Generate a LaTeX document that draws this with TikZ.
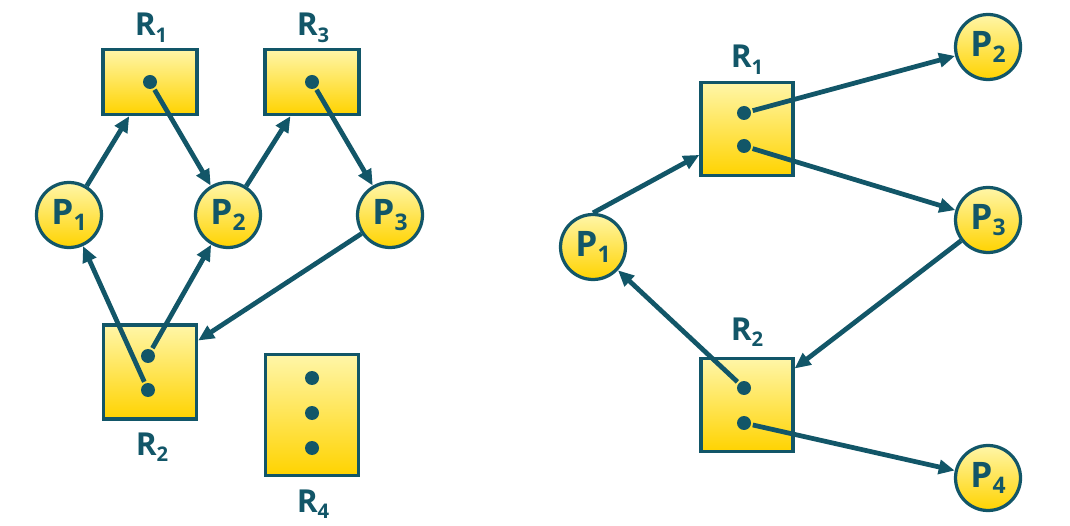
\documentclass[tikz,border=0pt]{standalone}
\usepackage{fontspec}
\setmainfont{Open Sans}
\usetikzlibrary{arrows.meta,positioning}
\definecolor{rag}{RGB}{18,86,104}
\definecolor{ragtop}{RGB}{255,246,168}
\definecolor{ragbot}{RGB}{255,211,0}
\newcommand{\psub}[1]{\raisebox{-3.8pt}{\fontsize{13}{13}\selectfont #1}}
\newcommand{\rsub}[1]{\raisebox{-3.8pt}{\fontsize{11.5}{11.5}\selectfont #1}}

\begin{document}
\begin{tikzpicture}[x=0.02cm,y=-0.02cm,
  >={Triangle[length=0.32cm,width=0.28cm]},
  res/.style={draw=rag,line width=0.065cm,top color=ragtop,bottom color=ragbot,inner sep=0},
  proc/.style={circle,draw=rag,line width=0.065cm,top color=ragtop,bottom color=ragbot,
    minimum size=1.3cm,inner sep=0,text=rag,font=\fontsize{20}{20}\selectfont\bfseries},
  inst/.style={circle,fill=rag,minimum size=0.28cm,inner sep=0,outer sep=0.04cm},
  rlab/.style={anchor=base,text=rag,font=\fontsize{18}{18}\selectfont\bfseries},
  link/.style={->,draw=rag,line width=0.095cm}]
  \useasboundingbox (0,0) rectangle (1070,526);

  % left graph
  \node[res,minimum width=1.88cm,minimum height=1.30cm] (lR1) at (150,82) {};
  \node[res,minimum width=1.88cm,minimum height=1.30cm] (lR3) at (312,82) {};
  \node[res,minimum width=1.86cm,minimum height=1.88cm] (lR2) at (150,372) {};
  \node[res,minimum width=1.86cm,minimum height=2.42cm] (lR4) at (312,415) {};
  \node[proc] (lP1) at (69,215) {P\psub{1}};
  \node[proc] (lP2) at (228,215) {P\psub{2}};
  \node[proc] (lP3) at (390,215) {P\psub{3}};

  \node[inst] (lR1a) at (150,82) {};
  \node[inst] (lR3a) at (312,82) {};
  \node[inst] (lR2a) at (148,356) {};
  \node[inst] (lR2b) at (148,390) {};
  \node[inst] (lR4a) at (312,378) {};
  \node[inst] (lR4b) at (312,413) {};
  \node[inst] (lR4c) at (312,448) {};

  \node[rlab] (lR1t) at (151,36) {R\rsub{1}};
  \node[rlab] (lR3t) at (313,36) {R\rsub{3}};
  \node[rlab] (lR2t) at (152,455) {R\rsub{2}};
  \node[rlab] (lR4t) at (313,512) {R\rsub{4}};

  \draw[link] (lP1) -- (lR1);
  \draw[link] (lR1a) -- (lP2);
  \draw[link] (lP2) -- (lR3);
  \draw[link] (lR3a) -- (lP3);
  \draw[link] (lP3) -- (lR2);
  \draw[link] (lR2b) -- (lP1);
  \draw[link] (lR2a) -- (lP2);

  % right graph
  \node[res,minimum width=1.84cm,minimum height=1.86cm] (rR1) at (747,129) {};
  \node[res,minimum width=1.84cm,minimum height=1.86cm] (rR2) at (747,405) {};
  \node[proc] (rP1) at (593,247) {P\psub{1}};
  \node[proc] (rP2) at (988,47) {P\psub{2}};
  \node[proc] (rP3) at (988,220) {P\psub{3}};
  \node[proc] (rP4) at (988,478) {P\psub{4}};

  \node[inst] (rR1a) at (744,113) {};
  \node[inst] (rR1b) at (744,146) {};
  \node[inst] (rR2a) at (744,388) {};
  \node[inst] (rR2b) at (744,423) {};

  \node[rlab] (rR1t) at (747,68) {R\rsub{1}};
  \node[rlab] (rR2t) at (747,340) {R\rsub{2}};

  \draw[link] (rP1.north) -- (rR1);
  \draw[link] (rR1a) -- (rP2);
  \draw[link] (rR1b) -- (rP3);
  \draw[link] (rP3) -- (rR2);
  \draw[link] (rR2a) -- (rP1);
  \draw[link] (rR2b) -- (rP4);
\end{tikzpicture}
\end{document}
